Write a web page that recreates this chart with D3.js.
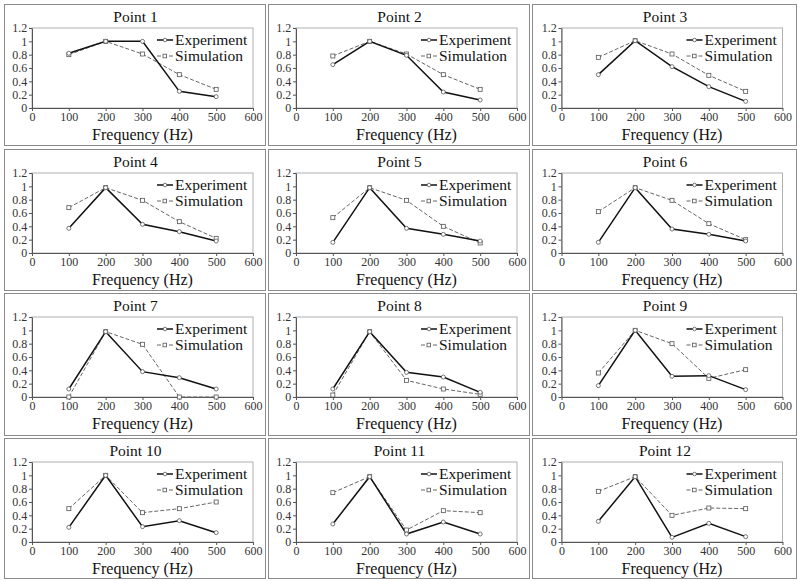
<!DOCTYPE html>
<html><head><meta charset="utf-8">
<script src="https://cdn.jsdelivr.net/npm/d3@7"></script>
<style>body{margin:0;background:#fff}svg{display:block}</style>
</head><body>
<svg id="c" width="800" height="581"></svg>
<script>
const frequencies = [100, 200, 300, 400, 500];
const xTicks = [0, 100, 200, 300, 400, 500, 600];
const yTicks = [0, 0.2, 0.4, 0.6, 0.8, 1, 1.2];
const yTickLabels = ["0", "0.2", "0.4", "0.6", "0.8", "1", "1.2"];
const titles = ["Point 1","Point 2","Point 3","Point 4","Point 5","Point 6","Point 7","Point 8","Point 9","Point 10","Point 11","Point 12"];
const experiment = [
  [0.82, 1.00, 1.00, 0.25, 0.17],
  [0.65, 1.00, 0.79, 0.24, 0.12],
  [0.50, 1.01, 0.62, 0.32, 0.10],
  [0.37, 0.98, 0.43, 0.32, 0.18],
  [0.16, 0.98, 0.37, 0.28, 0.18],
  [0.16, 0.98, 0.36, 0.28, 0.18],
  [0.12, 0.98, 0.38, 0.29, 0.12],
  [0.12, 0.98, 0.37, 0.30, 0.07],
  [0.17, 1.00, 0.31, 0.32, 0.11],
  [0.22, 1.00, 0.23, 0.32, 0.14],
  [0.27, 0.98, 0.12, 0.30, 0.12],
  [0.31, 0.98, 0.07, 0.28, 0.08]
];
const simulation = [
  [0.80, 1.00, 0.81, 0.50, 0.28],
  [0.78, 1.00, 0.81, 0.50, 0.28],
  [0.76, 1.01, 0.81, 0.49, 0.25],
  [0.68, 0.98, 0.79, 0.47, 0.22],
  [0.53, 0.98, 0.79, 0.40, 0.15],
  [0.62, 0.98, 0.79, 0.44, 0.20],
  [0.00, 0.98, 0.79, 0.00, 0.00],
  [0.03, 0.98, 0.25, 0.12, 0.04],
  [0.36, 1.00, 0.80, 0.28, 0.41],
  [0.50, 1.00, 0.44, 0.50, 0.60],
  [0.74, 0.98, 0.18, 0.47, 0.44],
  [0.76, 0.98, 0.40, 0.51, 0.50]
];
const legendLabels = ["Experiment", "Simulation"];

const FONT = "'Liberation Serif'";
const svg = d3.select("#c");
const colX = [4, 268, 532];
const colW = [261, 261, 264];
const rowY = [4, 149, 293, 438];
const rowH = [141, 141, 142, 140];

titles.forEach((t, i) => {
  const r = Math.floor(i / 3), c = i % 3;
  const px = colX[c], py = rowY[r];
  const g = svg.append("g").attr("transform", `translate(${px},${py})`);
  g.append("rect").attr("x", 0.5).attr("y", 0.5).attr("width", colW[c]).attr("height", rowH[r])
    .attr("fill", "#fff").attr("stroke", "#8a8a8a").attr("stroke-width", 1);
  const left = c === 2 ? 29.5 : 28, top = 24, w = 221, h = 80;
  const x = d3.scaleLinear().domain([0, 600]).range([left, left + w]);
  const y = d3.scaleLinear().domain([0, 1.2]).range([top + h, top]);
  g.append("rect").attr("x", left).attr("y", top).attr("width", w).attr("height", h)
    .attr("fill", "none").attr("stroke", "#b0b0b0").attr("stroke-width", 1);
  const xa = g.append("g").attr("transform", `translate(0,${top + h})`)
    .call(d3.axisBottom(x).tickValues(xTicks).tickSize(3).tickSizeOuter(0).tickFormat(d3.format("d")));
  const ya = g.append("g").attr("transform", `translate(${left},0)`)
    .call(d3.axisLeft(y).tickValues(yTicks).tickSize(3).tickSizeOuter(0).tickFormat((d, k) => yTickLabels[k]));
  [xa, ya].forEach(a => {
    a.attr("font-family", FONT).attr("font-size", 12);
    a.select(".domain").attr("stroke", "#555");
    a.selectAll(".tick line").attr("stroke", "#555");
    a.selectAll("text").attr("font-family", FONT).attr("font-size", 12).attr("fill", "#333");
  });
  xa.selectAll("text").attr("dy", "0.6em");
  ya.selectAll("text").attr("dx", "0.1em");
  g.append("text").attr("x", left + w / 2 - 7).attr("y", 18).attr("text-anchor", "middle")
    .attr("font-family", FONT).attr("font-size", 15.5).attr("fill", "#111").text(t);
  g.append("text").attr("x", left + w / 2).attr("y", 136).attr("text-anchor", "middle")
    .attr("font-family", FONT).attr("font-size", 16).attr("fill", "#111").text("Frequency (Hz)");

  const line = d3.line().x((d, k) => x(frequencies[k])).y(d => y(d));
  g.append("path").datum(simulation[i]).attr("d", line).attr("fill", "none")
    .attr("stroke", "#666").attr("stroke-width", 1).attr("stroke-dasharray", "4,2");
  g.append("path").datum(experiment[i]).attr("d", line).attr("fill", "none")
    .attr("stroke", "#111").attr("stroke-width", 1.5);
  g.selectAll(".sq").data(simulation[i]).join("rect").attr("class", "sq")
    .attr("x", (d, k) => x(frequencies[k]) - 2).attr("y", d => y(d) - 2).attr("width", 4).attr("height", 4)
    .attr("fill", "#fff").attr("stroke", "#555").attr("stroke-width", 0.8);
  g.selectAll(".ci").data(experiment[i]).join("circle").attr("class", "ci")
    .attr("cx", (d, k) => x(frequencies[k])).attr("cy", d => y(d)).attr("r", 2)
    .attr("fill", "#fff").attr("stroke", "#555").attr("stroke-width", 0.8);

  const lx = left + 125;
  const ly1 = top + 12, ly2 = top + 28;
  g.append("line").attr("x1", lx).attr("x2", lx + 16).attr("y1", ly1).attr("y2", ly1)
    .attr("stroke", "#111").attr("stroke-width", 1.5);
  g.append("circle").attr("cx", lx + 8).attr("cy", ly1).attr("r", 1.8).attr("fill", "#fff").attr("stroke", "#555").attr("stroke-width", 0.8);
  g.append("line").attr("x1", lx).attr("x2", lx + 16).attr("y1", ly2).attr("y2", ly2)
    .attr("stroke", "#666").attr("stroke-width", 1).attr("stroke-dasharray", "4,2");
  g.append("rect").attr("x", lx + 6).attr("y", ly2 - 1.8).attr("width", 3.6).attr("height", 3.6).attr("fill", "#fff").attr("stroke", "#555").attr("stroke-width", 0.8);
  g.append("text").attr("x", lx + 18).attr("y", ly1).attr("dy", "0.35em").attr("font-family", FONT).attr("font-size", 15.5).attr("fill", "#111").text(legendLabels[0]);
  g.append("text").attr("x", lx + 18).attr("y", ly2).attr("dy", "0.35em").attr("font-family", FONT).attr("font-size", 15.5).attr("fill", "#111").text(legendLabels[1]);
});
</script>
</body></html>
